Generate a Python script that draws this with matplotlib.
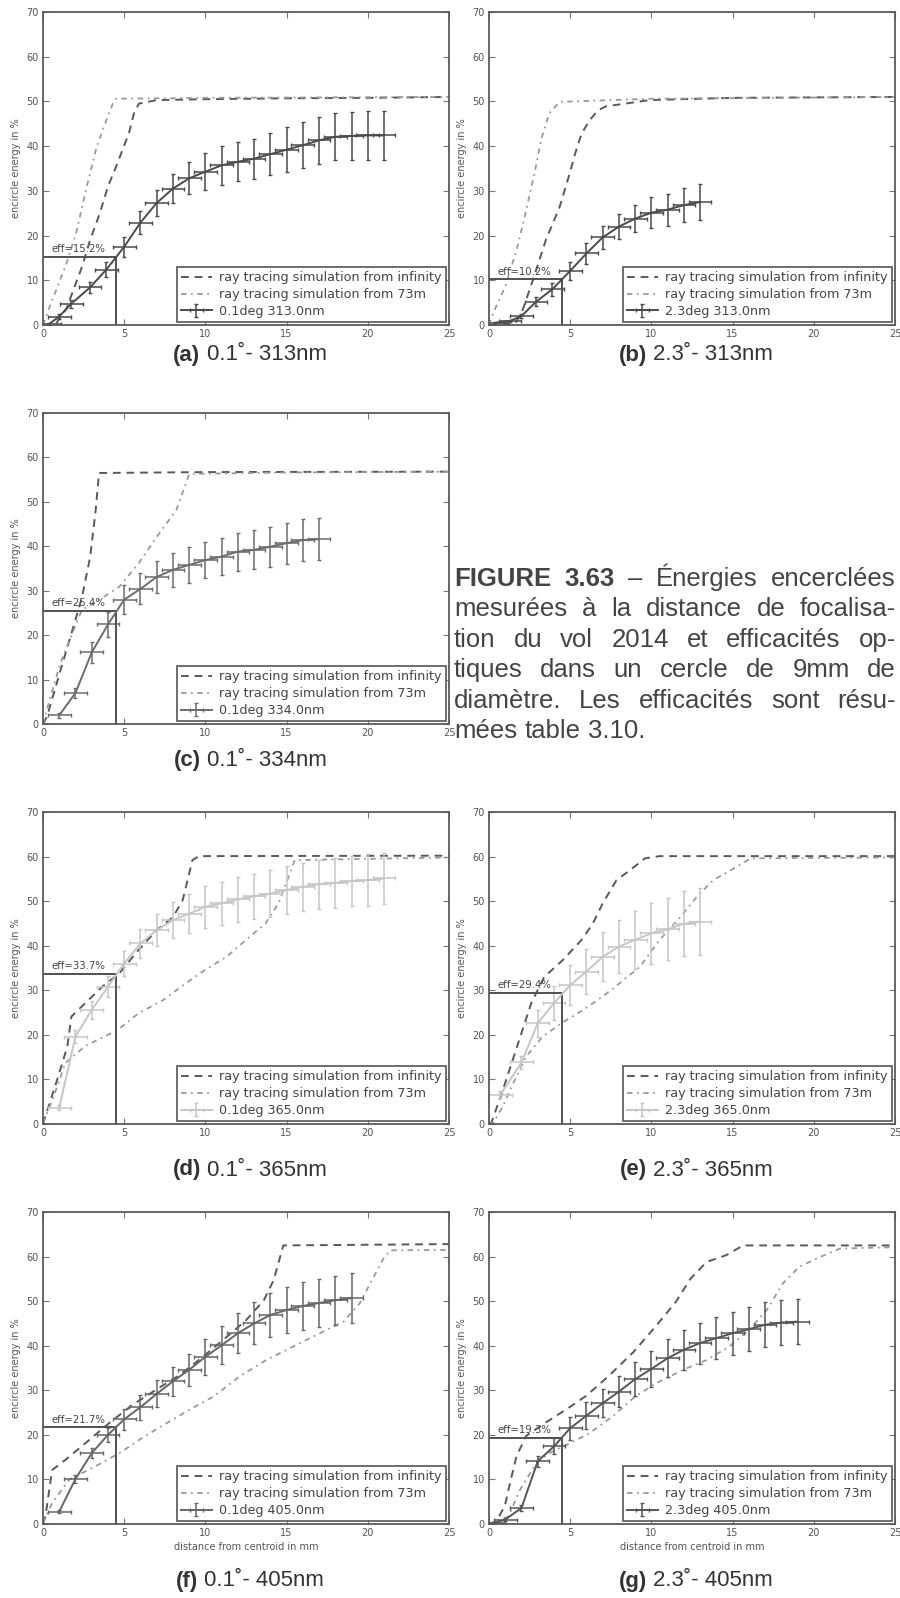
"""
Encircled energy measurements, flight 2014 - figure 3.63 recreation
"""

import matplotlib
matplotlib.use("Agg")
import matplotlib.pyplot as plt

# ── data ────────────────────────────────────────────────────────────────────
# (a) 0.1deg 313nm
A_X    = [0.4, 1, 1.75, 2.9, 3.9, 5, 6, 7, 8, 9, 10, 11, 12, 13, 14, 15, 16, 17, 18, 19, 20, 21]
A_Y    = [0.3, 1.9, 4.8, 8.4, 12.4, 17.5, 22.9, 27.3, 30.5, 32.8, 34.3, 35.7, 36.5, 37.2,
          38.2, 39.2, 40.2, 41.3, 42.1, 42.3, 42.4, 42.4]
A_YERR = [0.2, 0.5, 0.9, 1.3, 1.7, 2.2, 2.6, 3.0, 3.3, 3.6, 4.1, 4.3, 4.4, 4.5, 4.7, 5.0,
          5.1, 5.2, 5.3, 5.4, 5.4, 5.4]
A_INF_X = [0, 0.8, 1.45, 2.4, 2.9, 3.5, 4.0, 4.5, 5.3, 5.6, 5.9, 7.0, 10, 15, 20, 25]
A_INF_Y = [0, 0.3, 3.7, 13, 19, 25, 31, 35.4, 43, 47.3, 49.5, 50.3, 50.5, 50.7, 50.8, 51]
A_73_X  = [0, 0.4, 1.45, 2.07, 2.7, 3.3, 3.9, 4.3, 4.5, 10, 25]
A_73_Y  = [0, 4, 13.8, 21, 31, 39.8, 45.8, 49.5, 50.6, 50.8, 51]

# (b) 2.3deg 313nm
B_X    = [0.4, 1.3, 2, 2.9, 3.9, 5, 6, 7, 8, 9, 10, 11, 12, 13]
B_Y    = [0.5, 0.9, 2.0, 5.2, 8.0, 12.1, 16.0, 19.6, 22.0, 23.8, 25.1, 25.8, 26.8, 27.5]
B_YERR = [0.2, 0.3, 0.5, 1.0, 1.5, 2.0, 2.3, 2.5, 2.8, 3.0, 3.5, 3.6, 3.8, 4.0]
B_INF_X = [0, 1.6, 2.0, 2.7, 3.5, 4.35, 4.97, 5.3, 5.7, 6.2, 6.7, 7.2, 9.9, 15, 25]
B_INF_Y = [0, 0.3, 2.6, 10, 19, 26.4, 33.9, 38.3, 42.8, 45.8, 48, 48.9, 50.3, 50.8, 51]
B_73_X  = [0, 0.25, 1.0, 1.7, 2.2, 2.8, 3.2, 3.7, 4.35, 10, 25]
B_73_Y  = [0, 2.6, 8.6, 16.8, 24.2, 33.9, 41.3, 47.3, 49.9, 50.6, 51]

# (c) 0.1deg 334nm
C_X    = [1, 2, 3, 4, 5, 6, 7, 8, 9, 10, 11, 12, 13, 14, 15, 16, 17]
C_Y    = [1.95, 7.0, 16.1, 22.4, 28.0, 30.4, 33.1, 34.7, 35.8, 36.9, 37.7, 38.8, 39.2,
          39.9, 40.7, 41.4, 41.6]
C_YERR = [0.5, 1.2, 2.4, 2.8, 3.2, 3.5, 3.7, 3.9, 4.0, 4.1, 4.2, 4.3, 4.4, 4.5, 4.6, 4.7, 4.75]
C_INF_X = [0, 0.25, 1.07, 1.8, 2.4, 2.9, 3.24, 3.45, 10, 25]
C_INF_Y = [0, 1.7, 12, 21, 28.5, 37.5, 48, 56.5, 56.7, 56.8]
C_73_X  = [0, 0.35, 1.07, 1.8, 2.4, 3.45, 4.7, 5.9, 7.0, 8.2, 8.8, 9.0, 15, 25]
C_73_Y  = [0, 4.7, 13.7, 20.4, 25.7, 27.9, 30.9, 36.2, 42.1, 48.1, 54.1, 56.3, 56.6, 56.8]

# (d) 0.1deg 365nm
D_X    = [1, 2, 3, 4, 5, 6, 7, 8, 9, 10, 11, 12, 13, 14, 15, 16, 17, 18, 19, 20, 21]
D_Y    = [3.7, 19.6, 25.6, 30.8, 36.0, 40.5, 43.5, 45.7, 47.2, 48.7, 49.5, 50.4, 51.1,
          51.7, 52.5, 53.2, 53.8, 54.1, 54.5, 54.7, 55.1]
D_YERR = [0.5, 1.5, 2.0, 2.4, 2.8, 3.2, 3.6, 4.0, 4.3, 4.7, 4.8, 5.0, 5.1, 5.2, 5.3,
          5.4, 5.5, 5.6, 5.7, 5.8, 5.8]
D_INF_X = [0, 0.15, 0.87, 1.5, 1.75, 2.6, 3.65, 4.7, 5.8, 7.0, 8.0, 8.6, 9.2, 9.6, 25]
D_INF_Y = [0, 1.7, 9.9, 17.4, 24.1, 27.1, 30.8, 33.8, 38.7, 43.5, 46.4, 50.2, 59.2, 60.1, 60.2]
D_73_X  = [0, 0.66, 1.38, 2.6, 4.6, 5.9, 7.4, 8.8, 10.0, 11.3, 12.5, 13.7, 14.5, 15.2, 15.5, 25]
D_73_Y  = [0.2, 6.2, 13.7, 17.5, 21.1, 24.9, 27.8, 31.6, 34.6, 37.5, 41.3, 45, 49.5, 56.2, 59.2, 59.8]

# (e) 2.3deg 365nm
E_X    = [0.7, 2, 3, 4, 5, 6, 7, 8, 9, 10, 11, 12, 13]
E_Y    = [6.6, 13.8, 22.6, 27.1, 31.2, 34.2, 37.5, 39.8, 41.3, 42.8, 43.7, 44.9, 45.4]
E_YERR = [0.8, 1.5, 3.0, 3.8, 4.5, 5.0, 5.5, 6.0, 6.5, 6.8, 7.0, 7.3, 7.5]
E_INF_X = [0, 0.15, 0.86, 1.4, 2.0, 2.6, 3.4, 4.55, 5.7, 6.4, 7.0, 7.85, 8.7, 9.6, 10.5, 25]
E_INF_Y = [0, 0.3, 7.7, 13.7, 20.4, 27.1, 33, 36.8, 41.3, 45, 49.5, 54.7, 57, 59.6, 60.1, 60.1]
E_73_X  = [0, 0.25, 0.86, 1.5, 2.3, 3.3, 4.45, 5.8, 7.0, 8.05, 9.3, 10.5, 11.8, 12.8,
           13.8, 15.25, 16.1, 25]
E_73_Y  = [0, 0.2, 4, 9.2, 15.2, 19.6, 22.6, 25.6, 28.6, 31.6, 35.3, 41.3, 46.5, 51,
           54.7, 57.7, 59.6, 59.8]

# (f) 0.1deg 405nm
F_X    = [1, 2, 3, 4, 5, 6, 7, 8, 9, 10, 11, 12, 13, 14, 15, 16, 17, 18, 19]
F_Y    = [2.8, 10.1, 15.9, 20.0, 23.5, 26.2, 29.2, 32.0, 34.6, 37.5, 40.1, 42.8, 45.0,
          46.9, 48.0, 48.9, 49.6, 50.2, 50.7]
F_YERR = [0.4, 0.8, 1.2, 1.6, 2.4, 2.8, 3.0, 3.3, 3.6, 4.1, 4.3, 4.5, 4.7, 4.9, 5.1,
          5.3, 5.4, 5.5, 5.6]
F_INF_X = [0, 0.15, 0.56, 1.38, 2.6, 4.06, 5.5, 6.95, 8.4, 9.6, 11.1, 12.5, 13.6, 14.2, 14.8, 25]
F_INF_Y = [0, 1.7, 12.1, 14.4, 18.1, 22.6, 26.7, 30.1, 33.4, 36.8, 41.3, 45.7, 50.2, 54.7, 62.5, 62.8]
F_73_X  = [0, 0.56, 1.6, 3.2, 4.7, 6.1, 7.6, 9.0, 10.5, 12.1, 13.75, 15.4, 17.05, 18.5,
           19.5, 20.25, 21.0, 21.4, 25]
F_73_Y  = [0.2, 4.7, 9.9, 12.9, 15.9, 19.3, 22.6, 25.6, 28.6, 33.1, 36.8, 39.8, 42.8,
           45.4, 49.5, 54.7, 59.8, 61.4, 61.5]

# (g) 2.3deg 405nm
G_X    = [0.3, 1, 2, 3, 4, 5, 6, 7, 8, 9, 10, 11, 12, 13, 14, 15, 16, 17, 18, 19]
G_Y    = [0.2, 1.0, 3.6, 14.1, 17.4, 21.5, 24.3, 27.1, 29.7, 32.5, 34.8, 37.2, 39.1,
          40.6, 41.7, 42.8, 43.7, 44.7, 45.2, 45.4]
G_YERR = [0.1, 0.3, 0.6, 1.2, 1.8, 2.6, 3.0, 3.2, 3.5, 3.8, 4.1, 4.3, 4.5, 4.6, 4.7,
          4.8, 4.9, 5.0, 5.0, 5.0]
G_INF_X = [0, 0.45, 0.97, 1.4, 1.7, 2.3, 3.5, 4.8, 6.0, 7.4, 8.9, 10.3, 11.5, 12.4,
           13.4, 14.6, 15.65, 25]
G_INF_Y = [0, 0.6, 4, 10.8, 15.3, 19.8, 22.8, 25.8, 28.8, 33.3, 38.6, 44.5, 49.8, 55,
           58.8, 60.3, 62.5, 62.5]
G_73_X  = [0, 0.25, 1.2, 1.9, 2.9, 3.7, 4.97, 6.2, 7.6, 9.0, 10.3, 11.96, 13.4, 14.8,
           16.0, 17.1, 18.1, 19.1, 20.2, 21.6, 25]
G_73_Y  = [0, 0.2, 1.7, 7.6, 13.6, 15.9, 18.1, 20.4, 24.1, 28.6, 31.6, 34.6, 36.8, 39.8,
           43.5, 48, 54, 57.7, 59.6, 61.8, 62.1]

EFFS     = [15.2, 10.2, 25.4, 33.7, 29.4, 21.7, 19.3]
LABELS   = ["0.1deg 313.0nm", "2.3deg 313.0nm", "0.1deg 334.0nm", "0.1deg 365.0nm",
            "2.3deg 365.0nm", "0.1deg 405.0nm", "2.3deg 405.0nm"]
LETTERS  = ["a", "b", "c", "d", "e", "f", "g"]
SUBCAPS  = ["0.1˚- 313nm", "2.3˚- 313nm", "0.1˚- 334nm", "0.1˚- 365nm",
            "2.3˚- 365nm", "0.1˚- 405nm", "2.3˚- 405nm"]
XERR = 0.7

# ── layout (pixels in a 900x1598 page) ──────────────────────────────────────
W, H = 900, 1598
MEAS_COL = ["#4a4a4a", "#4a4a4a", "#6c6c6c", "#c6c6c6", "#c6c6c6", "#666666", "#555555"]
# (left, top, right, bottom) of each axes box
BOXES = [(43, 12, 449, 325), (489, 12, 895, 325),
         (43, 413, 449, 724),
         (43, 812, 449, 1124), (489, 812, 895, 1124),
         (43, 1212, 449, 1524), (489, 1212, 895, 1524)]
CAP_Y = [355, 355, 760, 1170, 1170, 1581, 1581]

panels = [
    (A_X, A_Y, A_YERR, A_INF_X, A_INF_Y, A_73_X, A_73_Y),
    (B_X, B_Y, B_YERR, B_INF_X, B_INF_Y, B_73_X, B_73_Y),
    (C_X, C_Y, C_YERR, C_INF_X, C_INF_Y, C_73_X, C_73_Y),
    (D_X, D_Y, D_YERR, D_INF_X, D_INF_Y, D_73_X, D_73_Y),
    (E_X, E_Y, E_YERR, E_INF_X, E_INF_Y, E_73_X, E_73_Y),
    (F_X, F_Y, F_YERR, F_INF_X, F_INF_Y, F_73_X, F_73_Y),
    (G_X, G_Y, G_YERR, G_INF_X, G_INF_Y, G_73_X, G_73_Y),
]

TXT  = "#444444"
AXC  = "#5a5a5a"
CAPF = ["Liberation Sans", "DejaVu Sans"]

fig = plt.figure(figsize=(W / 100, H / 100), dpi=100, facecolor="white")

for i, (mx, my, myerr, ix, iy, tx, ty) in enumerate(panels):
    l, t, r, b = BOXES[i]
    ax = fig.add_axes([l / W, 1 - b / H, (r - l) / W, (b - t) / H])

    ax.plot(ix, iy, color="#595959", lw=1.4, ls=(0, (4, 3)),
            label="ray tracing simulation from infinity")
    ax.plot(tx, ty, color="#9a9a9a", lw=1.3, ls=(0, (3, 2.5, 1, 2.5)),
            label="ray tracing simulation from 73m")
    ax.errorbar(mx, my, yerr=myerr, xerr=XERR, color=MEAS_COL[i], lw=1.4,
                elinewidth=1.1, capsize=1.5, label=LABELS[i])

    eff = EFFS[i]
    ax.plot([0, 4.5, 4.5], [eff, eff, 0], color="#505050", lw=1.4)
    ax.text(0.55, eff + 0.6, f"eff={eff}%", fontsize=7.3, color=TXT, va="bottom")

    ax.set_xlim(0, 25)
    ax.set_ylim(0, 70)
    ax.set_xticks(range(0, 26, 5))
    ax.set_yticks(range(0, 71, 10))
    ax.tick_params(direction="in", top=True, right=True, length=4, width=0.8,
                   colors="#777777", labelcolor="#555555", labelsize=7, pad=3)
    for sp in ax.spines.values():
        sp.set_color(AXC)
        sp.set_linewidth(1.3)
    ax.set_ylabel("encircle energy in %", fontsize=7, color="#555555", labelpad=4)
    if i >= 5:
        ax.set_xlabel("distance from centroid in mm", fontsize=7, color="#555555",
                      labelpad=3)

    leg = ax.legend(loc="lower right", fontsize=9.2, fancybox=False, framealpha=1,
                    borderaxespad=0.2, handlelength=2.4, labelspacing=0.3,
                    borderpad=0.35, handletextpad=0.6)
    leg.get_frame().set_edgecolor("#555555")
    leg.get_frame().set_linewidth(1.2)
    for txt in leg.get_texts():
        txt.set_color(TXT)

# ── captions ────────────────────────────────────────────────────────────────
fig.canvas.draw()
rend = fig.canvas.get_renderer()
CAP_FS = 16
BODY_FS = 18.5

for i in range(7):
    l, t, r, b = BOXES[i]
    xc = (l + r) / 2 + 4
    yc = 1 - CAP_Y[i] / H
    t1 = fig.text(0, yc, f"({LETTERS[i]})", fontsize=CAP_FS, fontweight="bold",
                  family=CAPF, color="#333333", va="center")
    t2 = fig.text(0, yc, SUBCAPS[i], fontsize=CAP_FS, family=CAPF,
                  color="#333333", va="center")
    w1 = t1.get_window_extent(rend).width
    w2 = t2.get_window_extent(rend).width
    gap = 0.28 * CAP_FS * 100 / 72
    x0 = xc - (w1 + gap + w2) / 2
    t1.set_x(x0 / W)
    t2.set_x((x0 + w1 + gap) / W)

BODY = [
    [("FIGURE", True), ("3.63", True), ("–", False), ("Énergies", False), ("encerclées", False)],
    [("mesurées", False), ("à", False), ("la", False), ("distance", False), ("de", False),
     ("focalisa-", False)],
    [("tion", False), ("du", False), ("vol", False), ("2014", False), ("et", False),
     ("efficacités", False), ("op-", False)],
    [("tiques", False), ("dans", False), ("un", False), ("cercle", False), ("de", False),
     ("9mm", False), ("de", False)],
    [("diamètre.", False), ("Les", False), ("efficacités", False), ("sont", False),
     ("résu-", False)],
    [("mées", False), ("table", False), ("3.10.", False)],
]
BODY_X0, BODY_X1 = 454, 896
BODY_Y0, BODY_DY = 586, 30.5

for k, words in enumerate(BODY):
    yb = 1 - (BODY_Y0 + k * BODY_DY) / H
    objs = [fig.text(0, yb, w, fontsize=BODY_FS, family=CAPF, color=TXT,
                     fontweight="bold" if bold else "normal", va="baseline")
            for w, bold in words]
    widths = [o.get_window_extent(rend).width for o in objs]
    if k < len(BODY) - 1:
        gap = (BODY_X1 - BODY_X0 - sum(widths)) / (len(objs) - 1)
    else:
        gap = 0.28 * BODY_FS * 100 / 72
    x = BODY_X0
    for o, w in zip(objs, widths):
        o.set_x(x / W)
        x += w + gap

fig.savefig("out.png", dpi=100, facecolor="white")
